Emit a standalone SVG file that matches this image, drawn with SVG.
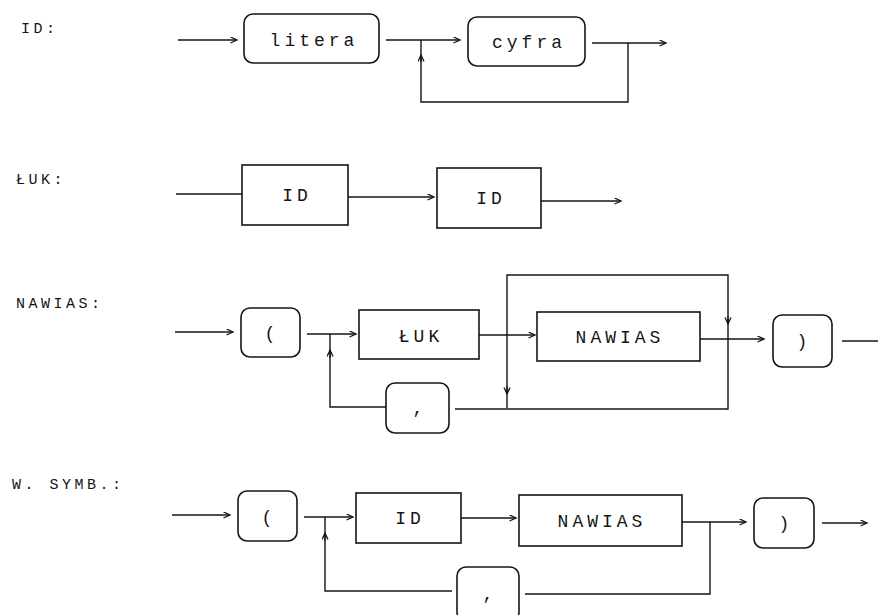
<svg xmlns="http://www.w3.org/2000/svg" width="878" height="615" viewBox="0 0 878 615">
<style>
.ln{fill:none;stroke:#151515;stroke-width:1.4}
.bx{fill:#fff;stroke:#151515;stroke-width:1.6}
.lbl{font-family:"Liberation Mono",monospace;font-size:15px;letter-spacing:3.5px;fill:#151515}
.tx{font-family:"Liberation Mono",monospace;font-size:18px;letter-spacing:4px;fill:#151515;text-anchor:middle}
.ar{marker-end:url(#ah)}
</style>
<defs>
<marker id="ah" markerWidth="10" markerHeight="10" refX="7" refY="3.5" orient="auto" markerUnits="userSpaceOnUse">
<path d="M0.5,0.5 L7,3.5 L0.5,6.5" fill="none" stroke="#151515" stroke-width="1.3"/>
</marker>
</defs>
<g id="labels">
<text class="lbl" x="21" y="33">ID:</text>
<text class="lbl" x="16" y="184">ŁUK:</text>
<text class="lbl" x="16" y="308">NAWIAS:</text>
<text class="lbl" x="12" y="489">W. SYMB.:</text>
</g>
<g id="connectors">
<path class="ln ar" d="M178,40 H237"/>
<path class="ln ar" d="M386,40 H460"/>
<path class="ln ar" d="M592,43 H666"/>
<path class="ln" d="M628,43 V102 H421 V58"/>
<path class="ln ar" d="M421,62 V55"/>
<path class="ln" d="M421,58 V40"/>
<path class="ln" d="M176,194 H242"/>
<path class="ln ar" d="M348,197 H434"/>
<path class="ln ar" d="M541,201 H621"/>
<path class="ln ar" d="M175,332 H233"/>
<path class="ln ar" d="M307,334 H356"/>
<path class="ln ar" d="M479,335 H535"/>
<path class="ln ar" d="M700,339 H764"/>
<path class="ln" d="M842,341 H878"/>
<path class="ln" d="M507,335 V275 H728 V339"/>
<path class="ln ar" d="M728,316 V324"/>
<path class="ln" d="M507,335 V408"/>
<path class="ln ar" d="M507,386 V394"/>
<path class="ln" d="M728,339 V409 H455"/>
<path class="ln" d="M386,407 H330 V334"/>
<path class="ln ar" d="M330,358 V350"/>
<path class="ln ar" d="M172,515 H230"/>
<path class="ln ar" d="M304,517 H353"/>
<path class="ln ar" d="M461,518 H516"/>
<path class="ln ar" d="M682,522 H746"/>
<path class="ln ar" d="M822,523 H867"/>
<path class="ln" d="M710,522 V594 H525"/>
<path class="ln" d="M452,591 H325 V517"/>
<path class="ln ar" d="M325,541 V533"/>
</g>
<g id="n-litera"><rect class="bx" x="244" y="14" width="135" height="49" rx="9"/><text class="tx" x="314" y="46">litera</text></g>
<g id="n-cyfra"><rect class="bx" x="468" y="17" width="117" height="49" rx="9"/><text class="tx" x="529" y="48">cyfra</text></g>
<g id="n-luk-id1"><rect class="bx" x="242" y="165" width="106" height="60"/><text class="tx" x="297" y="201">ID</text></g>
<g id="n-luk-id2"><rect class="bx" x="437" y="168" width="104" height="60"/><text class="tx" x="491" y="204">ID</text></g>
<g id="n-naw-lp"><rect class="bx" x="241" y="308" width="59" height="49" rx="9"/><text class="tx" x="272" y="339">(</text></g>
<g id="n-naw-luk"><rect class="bx" x="359" y="310" width="120" height="49"/><text class="tx" x="421" y="342">ŁUK</text></g>
<g id="n-naw-nawias"><rect class="bx" x="537" y="312" width="163" height="49"/><text class="tx" x="620" y="343">NAWIAS</text></g>
<g id="n-naw-rp"><rect class="bx" x="773" y="315" width="59" height="52" rx="9"/><text class="tx" x="804" y="347">)</text></g>
<g id="n-naw-comma"><rect class="bx" x="386" y="383" width="63" height="50" rx="9"/><text class="tx" x="420" y="414">,</text></g>
<g id="n-ws-lp"><rect class="bx" x="238" y="491" width="59" height="50" rx="9"/><text class="tx" x="269" y="523">(</text></g>
<g id="n-ws-id"><rect class="bx" x="356" y="493" width="105" height="50"/><text class="tx" x="410" y="524">ID</text></g>
<g id="n-ws-nawias"><rect class="bx" x="519" y="495" width="163" height="51"/><text class="tx" x="602" y="527">NAWIAS</text></g>
<g id="n-ws-rp"><rect class="bx" x="754" y="498" width="60" height="50" rx="9"/><text class="tx" x="786" y="529">)</text></g>
<g id="n-ws-comma"><rect class="bx" x="457" y="567" width="62" height="54" rx="9"/><text class="tx" x="490" y="600">,</text></g>
</svg>
